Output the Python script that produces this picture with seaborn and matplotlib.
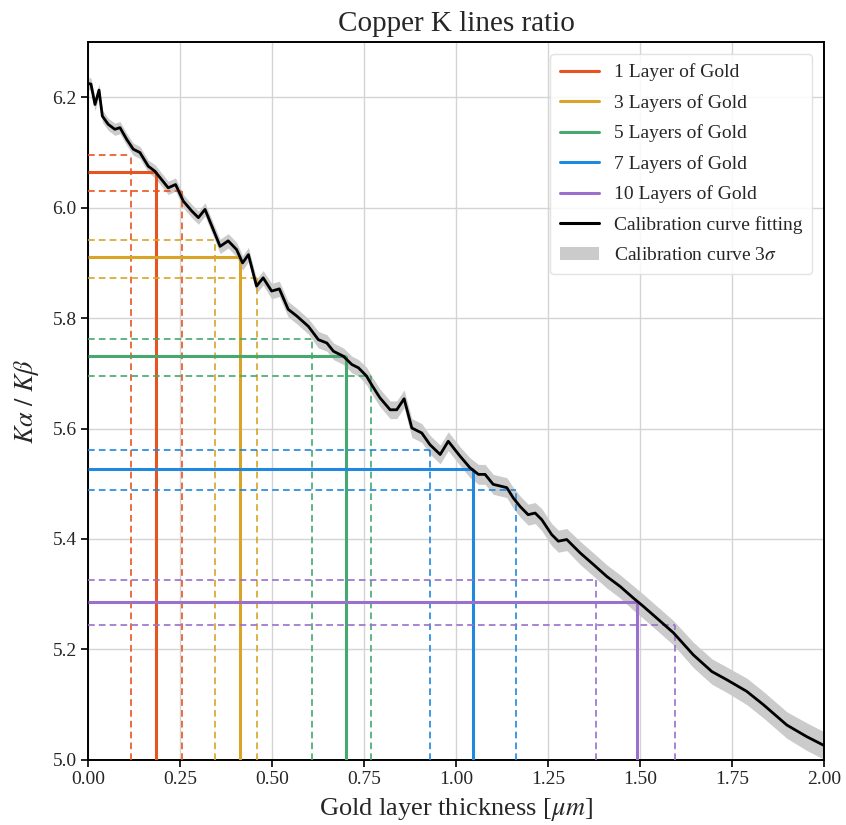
import matplotlib
matplotlib.use("Agg")
import matplotlib.pyplot as plt
from matplotlib.lines import Line2D
from matplotlib.patches import Patch
import seaborn as sns
import pandas as pd

# ---------------- data ----------------
calib_x = [0.000, 0.008, 0.019, 0.030, 0.039, 0.055, 0.073, 0.087, 0.105, 0.123,
           0.141, 0.164, 0.182, 0.218, 0.238, 0.259, 0.282, 0.300, 0.318, 0.340,
           0.359, 0.381, 0.404, 0.420, 0.436, 0.458, 0.476, 0.499, 0.520, 0.544,
           0.567, 0.599, 0.626, 0.649, 0.667, 0.694, 0.717, 0.735, 0.757, 0.772,
           0.793, 0.821, 0.839, 0.859, 0.880, 0.907, 0.929, 0.957, 0.979, 1.011,
           1.038, 1.061, 1.079, 1.101, 1.138, 1.156, 1.174, 1.196, 1.215, 1.233,
           1.260, 1.278, 1.301, 1.337, 1.373, 1.410, 1.446, 1.482, 1.509, 1.545,
           1.591, 1.645, 1.695, 1.736, 1.790, 1.835, 1.899, 1.953, 2.000]
calib_y = [6.225, 6.224, 6.187, 6.213, 6.166, 6.151, 6.142, 6.145, 6.124, 6.106,
           6.100, 6.075, 6.066, 6.036, 6.042, 6.012, 5.994, 5.982, 5.997, 5.961,
           5.930, 5.940, 5.924, 5.900, 5.915, 5.858, 5.873, 5.849, 5.853, 5.816,
           5.804, 5.785, 5.761, 5.755, 5.740, 5.731, 5.716, 5.710, 5.695, 5.678,
           5.656, 5.634, 5.634, 5.654, 5.601, 5.592, 5.571, 5.553, 5.577, 5.550,
           5.529, 5.517, 5.517, 5.499, 5.493, 5.474, 5.459, 5.444, 5.447, 5.435,
           5.408, 5.396, 5.399, 5.375, 5.354, 5.332, 5.314, 5.293, 5.278, 5.257,
           5.230, 5.190, 5.160, 5.145, 5.124, 5.100, 5.063, 5.042, 5.026]
calib_3sigma = [0.011, 0.011, 0.011, 0.011, 0.011, 0.011, 0.011, 0.011, 0.011, 0.011,
                0.011, 0.011, 0.012, 0.012, 0.012, 0.012, 0.012, 0.012, 0.012, 0.012,
                0.013, 0.013, 0.013, 0.013, 0.013, 0.013, 0.013, 0.014, 0.014, 0.014,
                0.014, 0.014, 0.015, 0.015, 0.015, 0.015, 0.015, 0.015, 0.016, 0.016,
                0.016, 0.016, 0.016, 0.016, 0.017, 0.017, 0.017, 0.017, 0.017, 0.017,
                0.018, 0.018, 0.018, 0.018, 0.018, 0.019, 0.019, 0.019, 0.019, 0.020,
                0.020, 0.020, 0.020, 0.021, 0.021, 0.021, 0.021, 0.022, 0.022, 0.022,
                0.022, 0.023, 0.023, 0.023, 0.024, 0.024, 0.024, 0.025, 0.025]

layer_labels = ['1 Layer of Gold', '3 Layers of Gold', '5 Layers of Gold',
                '7 Layers of Gold', '10 Layers of Gold']
layer_colors = ['#E8541F', '#D9A427', '#45A86E', '#2088DE', '#9A70CC']
ratio_center = [6.064, 5.910, 5.731, 5.526, 5.286]
ratio_upper = [6.095, 5.941, 5.763, 5.562, 5.325]
ratio_lower = [6.031, 5.872, 5.696, 5.489, 5.245]
thick_center = [0.185, 0.413, 0.701, 1.045, 1.491]
thick_low = [0.116, 0.346, 0.608, 0.930, 1.381]
thick_high = [0.255, 0.460, 0.770, 1.164, 1.595]

x_ticks = [0.00, 0.25, 0.50, 0.75, 1.00, 1.25, 1.50, 1.75, 2.00]
y_ticks = [5.0, 5.2, 5.4, 5.6, 5.8, 6.0, 6.2]

# ---------------- style ----------------
sns.set_theme(style="whitegrid")
plt.rcParams['font.family'] = ['Liberation Serif', 'DejaVu Serif']
plt.rcParams['mathtext.fontset'] = 'stix'

fig = plt.figure(figsize=(8.46, 8.25), dpi=100)
ax = fig.add_axes([0.104, 0.079, 0.870, 0.870])

X0, Y0 = 0.0, 5.0

df = pd.DataFrame({'x': calib_x, 'y': calib_y, 's': calib_3sigma})
ax.fill_between(df['x'], df['y'] - df['s'], df['y'] + df['s'],
                color='#cbcbcb', lw=0, zorder=2)

for i in range(len(layer_labels)):
    c = layer_colors[i]
    # solid centre
    ax.hlines(ratio_center[i], X0, thick_center[i], color=c, lw=2.2, zorder=3)
    ax.vlines(thick_center[i], Y0, ratio_center[i], color=c, lw=2.2, zorder=3)
    # dashed bounds
    ax.hlines(ratio_upper[i], X0, thick_low[i], color=c, lw=1.2,
              linestyles=(0, (4, 2.5)), zorder=3)
    ax.vlines(thick_low[i], Y0, ratio_upper[i], color=c, lw=1.2,
              linestyles=(0, (4, 2.5)), zorder=3)
    ax.hlines(ratio_lower[i], X0, thick_high[i], color=c, lw=1.2,
              linestyles=(0, (4, 2.5)), zorder=3)
    ax.vlines(thick_high[i], Y0, ratio_lower[i], color=c, lw=1.2,
              linestyles=(0, (4, 2.5)), zorder=3)

sns.lineplot(data=df, x='x', y='y', ax=ax, color='black', lw=2.0, zorder=4,
             estimator=None, sort=False)

ax.set_xlim(0, 2.0)
ax.set_ylim(5.0, 6.3)
ax.set_xticks(x_ticks)
ax.set_xticklabels([f"{t:.2f}" for t in x_ticks])
ax.set_yticks(y_ticks)
ax.set_yticklabels([f"{t:.1f}" for t in y_ticks])
ax.tick_params(axis='both', labelsize=14, length=5, width=1.2, direction='out',
               color='black', left=True, bottom=True, pad=3)
ax.grid(True, color='#d4d4d4', lw=1.0)
ax.set_facecolor('white')
for sp in ax.spines.values():
    sp.set_color('black')
    sp.set_linewidth(1.4)

ax.set_title('Copper K lines ratio', fontsize=21, pad=8)
ax.set_xlabel(r'Gold layer thickness [$\mu m$]', fontsize=19, labelpad=6)
ax.set_ylabel(r'$K\alpha\ /\ K\beta$', fontsize=19, labelpad=8)

handles = [Line2D([0], [0], color=c, lw=2.2) for c in layer_colors]
handles.append(Line2D([0], [0], color='black', lw=2.2))
handles.append(Patch(facecolor='#cbcbcb', edgecolor='none'))
labels = layer_labels + ['Calibration curve fitting', r'Calibration curve 3$\sigma$']
leg = ax.legend(handles, labels, loc='upper right', fontsize=14, frameon=True,
                fancybox=True, framealpha=0.85, edgecolor='#dddddd',
                borderaxespad=0.6, handlelength=2.0, labelspacing=0.65,
                borderpad=0.5)
leg.get_frame().set_linewidth(1.0)

fig.savefig('out.png', dpi=100)
